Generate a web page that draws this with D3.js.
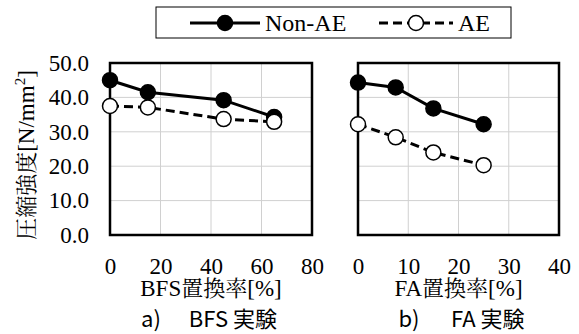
<!DOCTYPE html>
<html>
<head>
<meta charset="utf-8">
<script src="https://cdn.jsdelivr.net/npm/d3@7"></script>
<style>
  body { margin: 0; background: #fff; }
  svg { display: block; }
  .grid line { stroke: #d0d0d0; stroke-width: 1; }
</style>
</head>
<body>
<script>
// panel a) BFS
var bfsX = [0, 15, 45, 65];
var bfsNonAE = [45.0, 41.5, 39.2, 34.3];
var bfsAE = [37.5, 37.1, 33.7, 32.9];
var bfsTicks = [0, 20, 40, 60, 80];

// panel b) FA
var faX = [0, 7.5, 15, 25];
var faNonAE = [44.3, 42.9, 36.8, 32.2];
var faAE = [32.2, 28.4, 24.0, 20.3];
var faTicks = [0, 10, 20, 30, 40];

var yTicks = [0, 10, 20, 30, 40, 50];
var seriesNames = ['Non-AE', 'AE'];

var serif = 'Liberation Serif';
var mincho = 'Noto Serif CJK JP';
var gothic = 'Noto Sans CJK JP';

var svg = d3.select('body').append('svg')
    .attr('width', 579)
    .attr('height', 334);

var y = d3.scaleLinear().domain([0, 50]).range([235, 63]);

/**
 * Draw one panel: grid, border, two series, axis labels
 */
function drawPanel(xs, nonAE, ae, ticks, left, right, xTitle, capLabel, capText, capShift, showY)
{
    var x = d3.scaleLinear().domain([ticks[0], ticks[ticks.length-1]]).range([left, right]);
    var mid = (left+right)/2;
    var g = svg.append('g');

    // grid
    var grid = g.append('g').attr('class', 'grid');
    grid.selectAll('line.h').data(yTicks).enter()
        .append('line').attr('class', 'h')
        .attr('x1', left).attr('x2', right)
        .attr('y1', function(d){ return y(d); })
        .attr('y2', function(d){ return y(d); });
    grid.selectAll('line.v').data(ticks).enter()
        .append('line').attr('class', 'v')
        .attr('y1', y(0)).attr('y2', y(50))
        .attr('x1', function(d){ return x(d); })
        .attr('x2', function(d){ return x(d); });

    // plot border
    g.append('rect')
        .attr('x', left).attr('y', y(50))
        .attr('width', right-left).attr('height', y(0)-y(50))
        .attr('fill', 'none').attr('stroke', '#000').attr('stroke-width', 2.5);

    // x axis
    var xAxis = g.append('g')
        .attr('transform', 'translate(0,' + (y(0)+20) + ')')
        .call(d3.axisBottom(x).tickValues(ticks).tickSize(0).tickFormat(d3.format('d')));
    xAxis.attr('font-family', serif).attr('font-size', 23);
    xAxis.select('.domain').remove();

    if (showY)
    {
        var yAxis = g.append('g')
            .attr('transform', 'translate(' + (left-18) + ',0)')
            .call(d3.axisLeft(y).tickValues(yTicks).tickSize(0).tickFormat(d3.format('.1f')));
        yAxis.attr('font-family', serif).attr('font-size', 23);
        yAxis.select('.domain').remove();
    }

    var line = d3.line()
        .x(function(d){ return x(d[0]); })
        .y(function(d){ return y(d[1]); });

    var series = [
        { pts: d3.zip(xs, nonAE), dash: null, fill: '#000' },
        { pts: d3.zip(xs, ae), dash: '9,5', fill: '#fff' }
    ];
    series.forEach(function(s) {
        g.append('path')
            .datum(s.pts)
            .attr('d', line)
            .attr('fill', 'none')
            .attr('stroke', '#000')
            .attr('stroke-width', 3)
            .attr('stroke-dasharray', s.dash);
        g.selectAll(null).data(s.pts).enter()
            .append('circle')
            .attr('cx', function(d){ return x(d[0]); })
            .attr('cy', function(d){ return y(d[1]); })
            .attr('r', 7.5)
            .attr('fill', s.fill)
            .attr('stroke', '#000')
            .attr('stroke-width', 1.5);
    });

    // x axis title
    var t = g.append('text')
        .attr('x', mid).attr('y', 296)
        .attr('text-anchor', 'middle')
        .attr('font-size', 23);
    t.append('tspan').attr('font-family', serif).text(xTitle);
    t.append('tspan').attr('font-family', mincho).attr('font-size', 22).text('置換率');
    t.append('tspan').attr('font-family', serif).text('[%]');

    // caption: label on the left, text right-aligned
    g.append('text')
        .attr('x', mid+capShift).attr('y', 327)
        .attr('font-family', gothic).attr('font-size', 22)
        .text(capLabel);
    g.append('text')
        .attr('x', mid+66).attr('y', 327)
        .attr('text-anchor', 'end')
        .attr('font-family', gothic).attr('font-size', 22)
        .text(capText);
}

drawPanel(bfsX, bfsNonAE, bfsAE, bfsTicks, 110, 312, 'BFS', 'a)', 'BFS 実験', -70, true);
drawPanel(faX, faNonAE, faAE, faTicks, 358, 559, 'FA', 'b)', 'FA 実験', -60, false);

// y axis title
var yt = svg.append('text')
    .attr('transform', 'translate(34,' + 155 + ') rotate(-90)')
    .attr('text-anchor', 'middle')
    .attr('font-size', 23);
yt.append('tspan').attr('font-family', mincho).attr('font-size', 22).text('圧縮強度');
yt.append('tspan').attr('font-family', serif).text('[N/mm');
yt.append('tspan').attr('font-family', serif).attr('font-size', 15).attr('dy', -9).text('2');
yt.append('tspan').attr('font-family', serif).attr('dy', 9).text(']');

// legend
var lg = svg.append('g');
lg.append('rect')
    .attr('x', 156).attr('y', 7).attr('width', 355).attr('height', 31)
    .attr('fill', '#fff').attr('stroke', '#000').attr('stroke-width', 1);
var legendItems = [
    { name: seriesNames[0], x1: 190, x2: 260, dash: null, fill: '#000' },
    { name: seriesNames[1], x1: 379, x2: 453, dash: '9,5', fill: '#fff' }
];
legendItems.forEach(function(d) {
    lg.append('line')
        .attr('x1', d.x1).attr('x2', d.x2).attr('y1', 23).attr('y2', 23)
        .attr('stroke', '#000').attr('stroke-width', 3)
        .attr('stroke-dasharray', d.dash);
    lg.append('circle')
        .attr('cx', (d.x1+d.x2)/2).attr('cy', 23).attr('r', 7.5)
        .attr('fill', d.fill).attr('stroke', '#000').attr('stroke-width', 1.5);
    lg.append('text')
        .attr('x', d.x2+5).attr('y', 31)
        .attr('font-family', serif).attr('font-size', 24)
        .text(d.name);
});
</script>
</body>
</html>
